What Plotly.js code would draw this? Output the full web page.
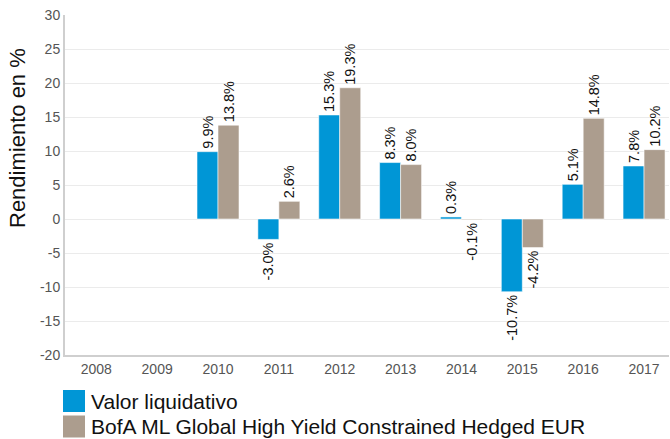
<!DOCTYPE html>
<html><head><meta charset="utf-8">
<script src="https://cdn.plot.ly/plotly-3.0.1.min.js"></script>
<style>html,body{margin:0;padding:0;background:#fff}#chart{width:670px;height:439px}</style>
</head><body><div id="chart"></div>
<script>
var years = ['2008','2009','2010','2011','2012','2013','2014','2015','2016','2017'];
var fundName = 'Valor liquidativo';
var benchName = 'BofA ML Global High Yield Constrained Hedged EUR';
var fundValues = [null, null, 9.9, -3.0, 15.3, 8.3, 0.3, -10.7, 5.1, 7.8];
var benchValues = [null, null, 13.8, 2.6, 19.3, 8.0, -0.1, -4.2, 14.8, 10.2];
var yTicks = [-20,-15,-10,-5,0,5,10,15,20,25,30];
var yTitle = 'Rendimiento en %';
var colors = ['#0096d6', '#ac9d8e'];
var names = [fundName, benchName];

var font = 'Liberation Sans, Arial, sans-serif';
function tr(name, vals, color){
  return {type:'bar', name:name, x:years, y:vals,
    marker:{color:color, line:{color:'rgba(255,255,255,0.55)', width:1}},
    texttemplate:'%{y:.1f}%', textposition:'outside', textangle:-90,
    constraintext:'none', cliponaxis:false,
    textfont:{family:font, size:14.5, color:'#111'}, hoverinfo:'none'};
}
var data = [tr(fundName, fundValues, colors[0]), tr(benchName, benchValues, colors[1])];

var PW = 604, PH = 340, L = 65, T = 15;
function px(x){ return (x - L) / PW; }
function py(y){ return (T + PH - y) / PH; }

var shapes = [], annotations = [];
names.forEach(function(n, i){
  var top = 390 + i*25.5;
  shapes.push({type:'rect', xref:'paper', yref:'paper',
    x0:px(63), x1:px(85), y0:py(top), y1:py(top+22),
    fillcolor:colors[i], line:{width:0}});
  annotations.push({xref:'paper', yref:'paper', x:px(89), y:py(top+11),
    xanchor:'left', yanchor:'middle', showarrow:false, text:n,
    font:{size:21, color:'#111', family:font}});
});
annotations.push({xref:'paper', yref:'paper', x:px(17), y:py(138),
  xanchor:'center', yanchor:'middle', showarrow:false, textangle:-90, text:yTitle,
  font:{size:22, color:'#111', family:font}});

var layout = {
  width:670, height:439,
  margin:{l:L, r:1, t:T, b:84},
  paper_bgcolor:'#fff', plot_bgcolor:'#fff',
  font:{family:font},
  barmode:'group', bargap:0.31, bargroupgap:0,
  xaxis:{type:'category', range:[-0.514, 9.41], showline:true, linecolor:'#cfcfcf', linewidth:2,
    ticks:'', tickfont:{size:14, color:'#555'}, showgrid:false},
  yaxis:{range:[-20,30], tickvals:yTicks, ticktext:yTicks.map(String),
    showline:true, linecolor:'#cfcfcf', linewidth:2,
    gridcolor:'#ebebeb', gridwidth:1, zeroline:false,
    tickfont:{size:14, color:'#555'}, ticks:''},
  showlegend:false,
  shapes:shapes, annotations:annotations
};
Plotly.newPlot('chart', data, layout, {displayModeBar:false, staticPlot:true});
</script></body></html>
